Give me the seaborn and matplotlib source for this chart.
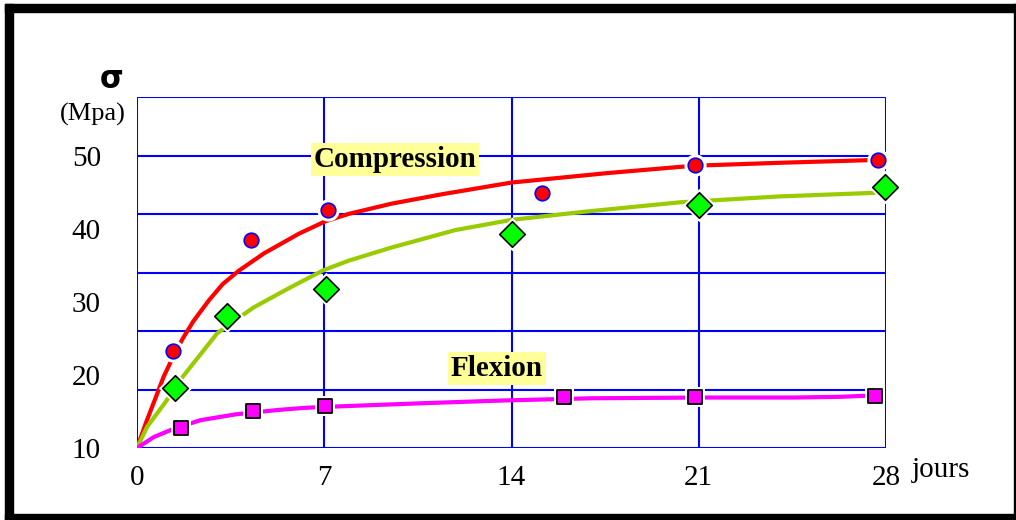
import matplotlib
matplotlib.use('Agg')
import matplotlib.pyplot as plt
from matplotlib.patches import Rectangle
import seaborn as sns

# valeurs mesurees (jours, MPa)
comp_x = [1.34, 4.27, 7.15, 15.15, 20.85, 27.7]
comp_y = [23.2, 38.5, 42.6, 44.9, 48.7, 49.4]
green_x = [1.42, 3.36, 7.07, 14.0, 21.0, 27.96]
green_y = [18.2, 28.0, 31.8, 39.3, 43.2, 45.7]
flex_x = [1.66, 4.35, 7.04, 15.96, 20.85, 27.6]
flex_y = [12.7, 15.0, 15.7, 17.0, 17.0, 17.1]

# courbes d'ajustement
comp_cx = [0, 0.35, 0.71, 0.99, 1.34, 1.70, 2.1, 2.69, 3.2, 3.79, 4.74, 6.05, 7.04, 7.9, 9.5, 11.4, 14.0, 17.6, 20.8, 24.0, 27.7]
comp_cy = [10, 13.6, 17.0, 19.7, 22.4, 24.9, 27.3, 30.2, 32.4, 34.2, 36.6, 39.3, 41.0, 42.0, 43.4, 44.7, 46.3, 47.6, 48.6, 49.0, 49.4]
green_cx = [0, 0.38, 1.03, 1.70, 3.0, 4.35, 5.65, 6.96, 7.9, 9.5, 11.9, 14.0, 16.7, 20.3, 24.0, 27.6]
green_cy = [10, 12.9, 16.1, 19.7, 25.7, 29.2, 31.8, 34.3, 35.6, 37.4, 39.8, 41.2, 42.3, 43.6, 44.4, 44.9]
flex_cx = [0, 0.63, 1.42, 2.37, 3.68, 5.26, 6.3, 7.6, 10.5, 13.7, 17.0, 21.0, 24.5, 26.3, 27.6]
flex_cy = [10, 11.5, 12.7, 13.8, 14.6, 15.2, 15.5, 15.7, 16.1, 16.5, 16.8, 16.9, 16.9, 17.0, 17.2]

x_ticks = [0, 7, 14, 21, 28]
y_ticks = [10, 20, 30, 40, 50]
y_grid = [10, 18, 26, 34, 42, 50, 58]

sns.set_style('white')
plt.rcParams['font.family'] = ['Liberation Serif', 'DejaVu Sans']
plt.rcParams['text.color'] = 'black'
plt.rcParams['xtick.color'] = 'black'
plt.rcParams['ytick.color'] = 'black'

fig = plt.figure(figsize=(10.16, 5.2), dpi=100, facecolor='white')
ax = fig.add_axes([137/1016, 1-448/520, (886-137)/1016, (448-97)/520])

ax.set_xlim(0, 28)
ax.set_ylim(10, 58)
ax.set_xticks(x_ticks)
ax.set_yticks(y_ticks)
ax.grid(False)

# grille bleue
for g in y_grid:
    ax.axhline(g, color='#0000ff', linewidth=1.5, zorder=1)
for g in x_ticks:
    ax.axvline(g, color='#0000ff', linewidth=1.5, zorder=1)
for s in ax.spines.values():
    s.set_visible(False)
ax.tick_params(length=0, labelcolor='black')
ax.tick_params(axis='y', pad=26, labelsize=21)
ax.tick_params(axis='x', pad=12, labelsize=21)

# courbes
sns.lineplot(x=comp_cx, y=comp_cy, ax=ax, color='#ff0000', linewidth=3, zorder=2)
sns.lineplot(x=green_cx, y=green_cy, ax=ax, color='#99cc00', linewidth=3, zorder=2)
sns.lineplot(x=flex_cx, y=flex_cy, ax=ax, color='#ff00ff', linewidth=3, zorder=2)

# halo blanc autour des points
sns.scatterplot(x=comp_x, y=comp_y, ax=ax, color='white', s=16**2, marker='o', linewidth=0, zorder=3, clip_on=False)
sns.scatterplot(x=green_x, y=green_y, ax=ax, color='white', s=17**2, marker='D', linewidth=0, zorder=3, clip_on=False)
sns.scatterplot(x=flex_x, y=flex_y, ax=ax, color='white', s=15**2, marker='s', linewidth=0, zorder=3, clip_on=False)

# points
sns.scatterplot(x=comp_x, y=comp_y, ax=ax, color='#ff0000', s=10.5**2, marker='o', edgecolor='#0000ff', linewidth=1.2, zorder=4, clip_on=False)
sns.scatterplot(x=green_x, y=green_y, ax=ax, color='#00ff00', s=13**2, marker='D', edgecolor='black', linewidth=1.2, zorder=4, clip_on=False)
sns.scatterplot(x=flex_x, y=flex_y, ax=ax, color='#ff00ff', s=10.5**2, marker='s', edgecolor='black', linewidth=1.3, zorder=4, clip_on=False)

ax.set_xlabel('')
ax.set_ylabel('')

# etiquettes
box = dict(facecolor='#ffff99', edgecolor='none', pad=2)
ax.text(9.64, 49.5, 'Compression', fontsize=21, fontweight='bold', color='black', ha='center', va='center', bbox=box, zorder=5)
ax.text(13.46, 20.9, 'Flexion', fontsize=21, fontweight='bold', color='black', ha='center', va='center', bbox=box, zorder=5)

fig.text(912/1016, 1-470/520, 'jours', fontsize=21, color='black', ha='left', va='center')
fig.text(112/1016, 1-80/520, 'σ', fontsize=22, fontweight='bold', family='DejaVu Sans', color='black', ha='center', va='center')
fig.text(93/1016, 1-114/520, '(Mpa)', fontsize=19, color='black', ha='center', va='center')

# cadre
fig.patches.append(Rectangle((5/1016, 0), 8/1016, 1-4/520, transform=fig.transFigure, color='black', figure=fig))
fig.patches.append(Rectangle((5/1016, 1-12/520), 1011/1016, 8/520, transform=fig.transFigure, color='black', figure=fig))
fig.patches.append(Rectangle((5/1016, 0), 1011/1016, 6/520, transform=fig.transFigure, color='black', figure=fig))
fig.patches.append(Rectangle((1014/1016, 0), 2/1016, 1-4/520, transform=fig.transFigure, color='black', figure=fig))

fig.savefig('out.png', dpi=100, facecolor='white')
